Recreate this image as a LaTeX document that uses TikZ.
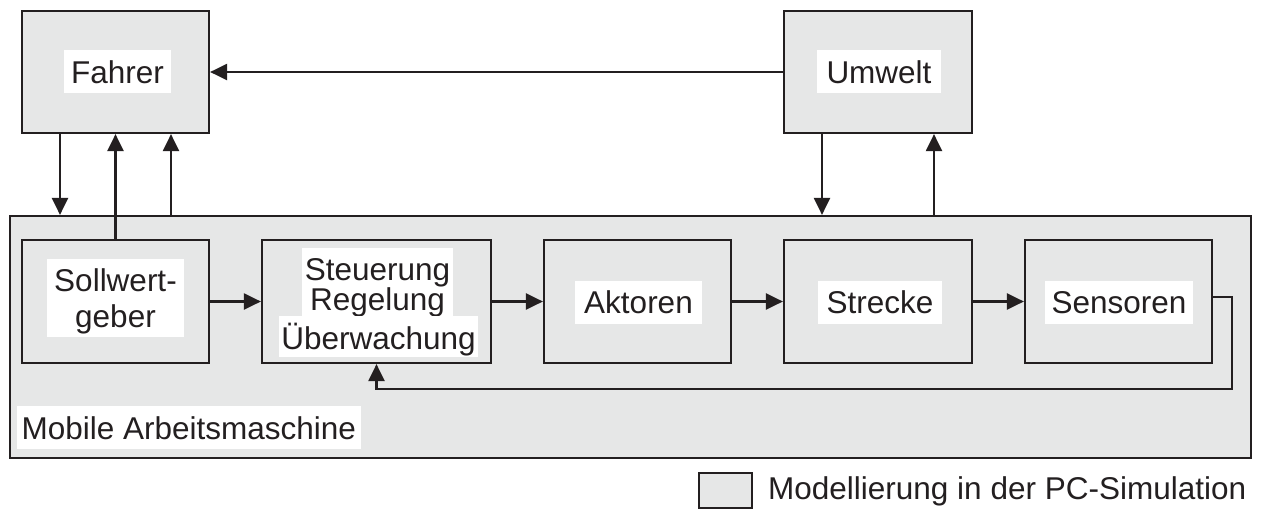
\documentclass[tikz,border=0pt]{standalone}
\usepackage{fontspec}
\setmainfont{Liberation Sans}
\usetikzlibrary{arrows.meta}
\definecolor{boxfill}{HTML}{E6E7E7}
\definecolor{ink}{HTML}{231F20}
\newcommand\lblfont{\fontsize{31.5}{34}\selectfont}
\begin{document}
\begin{tikzpicture}[x=1pt,y=-1pt,
  box/.style={rectangle, draw=ink, fill=boxfill, line width=2.2pt, inner sep=0pt},
  blk/.style={box, minimum height=123pt},
  lbl/.style={rectangle, fill=white, text=ink, font=\lblfont, inner ysep=10pt,
              text height=23pt, text depth=0pt},
  whitebg/.style={rectangle, fill=white, inner sep=0pt},
  txt/.style={text=ink, font=\lblfont, inner sep=0pt, anchor=base},
  conn/.style={draw=ink, line width=2.2pt, -{Triangle[length=17pt,width=16pt]}}]

\useasboundingbox[fill=white] (0,0) rectangle (1262,509);

% outer blocks
\node[box, minimum width=187pt, minimum height=122pt] (fahrer) at (115.5,72) {};
\node[box, minimum width=188pt, minimum height=122pt] (umwelt) at (878,72) {};
\node[box, minimum width=1241pt, minimum height=242pt] (mam) at (630.5,337) {};

% blocks of the machine
\node[blk, minimum width=187pt] (sollwert) at (115.5,301.5) {};
\node[blk, minimum width=229pt] (steuer)   at (376.5,301.5) {};
\node[blk, minimum width=187pt] (aktoren)  at (637.5,301.5) {};
\node[blk, minimum width=188pt] (strecke)  at (878,301.5) {};
\node[blk, minimum width=187pt] (sensoren) at (1118.5,301.5) {};

% labels
\node[lbl, inner xsep=7pt]   (fahrer-t)   at (117.5,71.5) {Fahrer};
\node[lbl, inner xsep=9.5pt] (umwelt-t)   at (879,71.5)   {Umwelt};
\node[lbl, inner xsep=9pt]   (aktoren-t)  at (638.5,302)  {Aktoren};
\node[lbl, inner xsep=8.5pt] (strecke-t)  at (880,302)    {Strecke};
\node[lbl, inner xsep=6.5pt] (sensoren-t) at (1119,302)   {Sensoren};
\node[lbl, inner xsep=4.5pt, anchor=west] (mam-t) at (17,427.5) {Mobile Arbeitsmaschine};

\node[whitebg, minimum width=137pt, minimum height=78pt] (sollwert-bg) at (115.5,298) {};
\node[txt] (sollwert-t1) at (115.5,291) {Sollwert-};
\node[txt] (sollwert-t2) at (115.5,327) {geber};

\node[whitebg, minimum width=151pt, minimum height=69pt] (steuer-bg) at (377.5,282.5) {};
\node[txt] (steuer-t1) at (377.5,280) {Steuerung};
\node[txt] (steuer-t2) at (377.5,310) {Regelung};
\node[whitebg, minimum width=199pt, minimum height=41pt] (steuer-bg2) at (378.5,336.5) {};
\node[txt] (steuer-t3) at (378.5,349) {Überwachung};

% legend
\node[box, minimum width=53pt, minimum height=35pt] (legend) at (725.5,490.5) {};
\node[txt, anchor=base west] (legend-t) at (768,499) {Modellierung in der PC-Simulation};

% helper columns for vertical connectors
\coordinate (c1) at (60,0);
\coordinate (c3) at (171,0);
\coordinate (u1) at (822,0);
\coordinate (u2) at (934,0);
\coordinate (fb) at (1232,389);

% connectors
\draw[conn] (umwelt.west) -- (fahrer.east);
\draw[conn] (fahrer.south -| c1) -- (mam.north -| c1);
\draw[conn] (sollwert.north) -- (sollwert.north |- fahrer.south);
\draw[conn] (mam.north -| c3) -- (fahrer.south -| c3);
\draw[conn] (umwelt.south -| u1) -- (mam.north -| u1);
\draw[conn] (mam.north -| u2) -- (umwelt.south -| u2);

\draw[conn] (sollwert.east) -- (steuer.west);
\draw[conn] (steuer.east) -- (aktoren.west);
\draw[conn] (aktoren.east) -- (strecke.west);
\draw[conn] (strecke.east) -- (sensoren.west);
\draw[conn] ([yshift=4.5pt]sensoren.east) -| (fb) -| (steuer.south);

\end{tikzpicture}
\end{document}
